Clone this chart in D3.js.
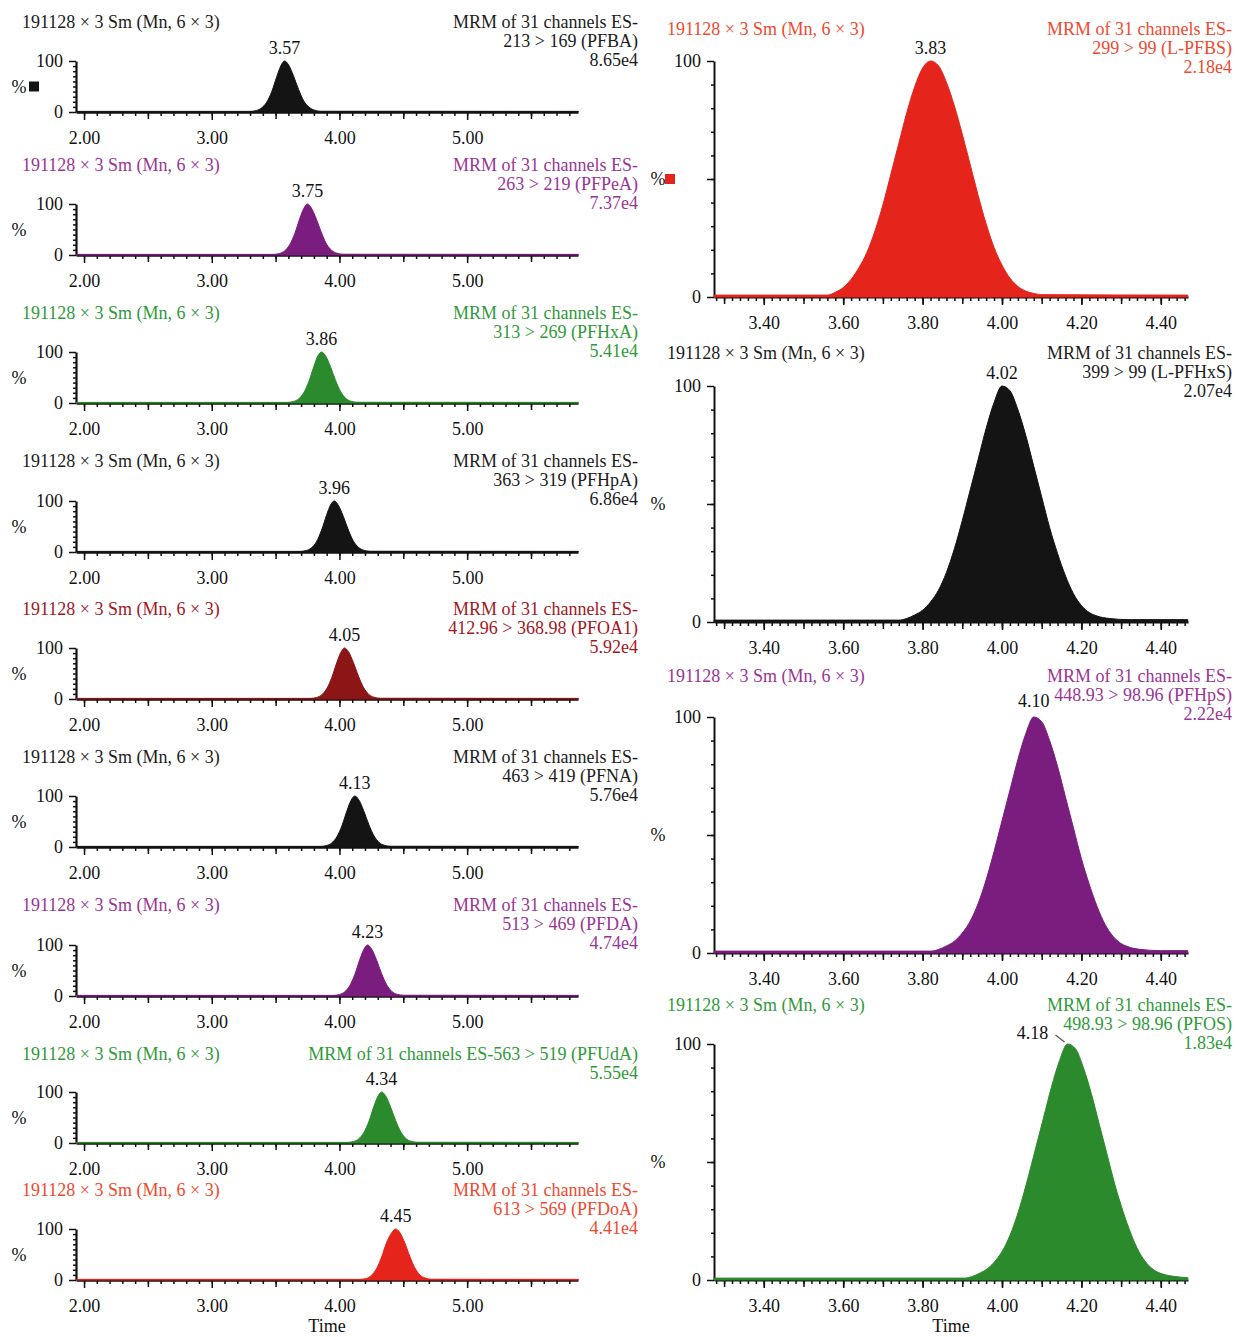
<!DOCTYPE html>
<html>
<head>
<meta charset="utf-8">
<script src="https://cdn.jsdelivr.net/npm/d3@7"></script>
<style>
  body { margin: 0; background: #fff; }
  svg text { font-family: "Liberation Serif", "DejaVu Serif", serif; font-size: 18px; }
</style>
</head>
<body>
<svg width="1236" height="1337"></svg>
<script>
// header texts
const sampleTitle = "191128 \u00d7 3 Sm (Mn, 6 \u00d7 3)";
const channelPrefix = "MRM of 31 channels ES-";

// left column: 9 compounds
const leftCompounds = ["213 > 169 (PFBA)", "263 > 219 (PFPeA)", "313 > 269 (PFHxA)", "363 > 319 (PFHpA)",
  "412.96 > 368.98 (PFOA1)", "463 > 419 (PFNA)", "513 > 469 (PFDA)", "563 > 519 (PFUdA)", "613 > 569 (PFDoA)"];
const leftIntensity = ["8.65e4", "7.37e4", "5.41e4", "6.86e4", "5.92e4", "5.76e4", "4.74e4", "5.55e4", "4.41e4"];
const leftApexLabels = ["3.57", "3.75", "3.86", "3.96", "4.05", "4.13", "4.23", "4.34", "4.45"];
const leftColorNames = ["black", "purple", "green", "black", "darkred", "black", "purple", "green", "red"];
const leftTicks = [2, 3, 4, 5];

// right column: 4 compounds
const rightCompounds = ["299 > 99 (L-PFBS)", "399 > 99 (L-PFHxS)", "448.93 > 98.96 (PFHpS)", "498.93 > 98.96 (PFOS)"];
const rightIntensity = ["2.18e4", "2.07e4", "2.22e4", "1.83e4"];
const rightApexLabels = ["3.83", "4.02", "4.10", "4.18"];
const rightColorNames = ["red", "black", "purple", "green"];
const rightTicks = [3.4, 3.6, 3.8, 4.0, 4.2, 4.4];

// chromatogram traces [time (min), % of max]
const pfba = [[1.94,1.2],[3.30,1.2],[3.35,3],[3.39,8],[3.43,19],[3.47,40],[3.51,70],[3.54,90],[3.57,100],[3.60,93],[3.64,71],[3.68,44],[3.72,22],[3.76,10],[3.80,4],[3.85,1.5],[5.87,1.2]];
const pfpea = [[1.94,1.2],[3.48,1.2],[3.53,3],[3.57,8],[3.61,20],[3.65,42],[3.69,72],[3.72,91],[3.75,100],[3.78,92],[3.82,70],[3.86,43],[3.90,21],[3.94,9],[3.98,3.5],[4.03,1.5],[5.87,1.2]];
const pfhxa = [[1.94,1.2],[3.59,1.2],[3.64,3],[3.68,8],[3.72,20],[3.76,42],[3.80,72],[3.83,92],[3.86,100],[3.89,93],[3.93,71],[3.97,44],[4.01,22],[4.05,9],[4.09,3.5],[4.14,1.5],[5.87,1.2]];
const pfhpa = [[1.94,1.2],[3.69,1.2],[3.74,3],[3.78,8],[3.82,20],[3.86,43],[3.90,73],[3.93,92],[3.96,100],[3.99,92],[4.03,70],[4.07,43],[4.11,21],[4.15,9],[4.19,3.5],[4.24,1.5],[5.87,1.2]];
const pfoa = [[1.94,1.2],[3.77,1.2],[3.82,3],[3.86,8],[3.90,20],[3.94,42],[3.98,72],[4.01,91],[4.04,100],[4.07,93],[4.11,71],[4.15,44],[4.19,22],[4.23,9],[4.27,3.5],[4.32,1.5],[5.87,1.2]];
const pfna = [[1.94,1.2],[3.85,1.2],[3.90,3],[3.94,8],[3.98,20],[4.02,42],[4.06,72],[4.09,91],[4.12,100],[4.15,93],[4.19,71],[4.23,44],[4.27,22],[4.31,9],[4.35,3.5],[4.40,1.5],[5.87,1.2]];
const pfda = [[1.94,1.2],[3.95,1.2],[4.00,3],[4.04,8],[4.08,20],[4.12,42],[4.16,72],[4.19,91],[4.22,100],[4.25,93],[4.29,71],[4.33,44],[4.37,22],[4.41,9],[4.45,3.5],[4.50,1.5],[5.87,1.2]];
const pfuda = [[1.94,1.2],[4.06,1.2],[4.11,3],[4.15,8],[4.19,20],[4.23,42],[4.27,72],[4.30,91],[4.33,100],[4.36,93],[4.40,71],[4.44,44],[4.48,22],[4.52,9],[4.56,3.5],[4.61,1.5],[5.87,1.2]];
const pfdoa = [[1.94,1.2],[4.16,1.2],[4.21,3],[4.25,9],[4.29,22],[4.33,45],[4.37,74],[4.41,93],[4.44,100],[4.47,94],[4.51,74],[4.55,47],[4.59,24],[4.63,10],[4.67,4],[4.72,1.5],[5.87,1.2]];

const lpfbs = [[3.275,0.8],[3.56,0.8],[3.58,2],[3.60,4],[3.62,7.5],[3.64,12.5],[3.66,19],[3.68,28],[3.70,39],[3.72,52],[3.74,65],[3.76,78],[3.78,89],[3.80,97],[3.82,100],[3.84,98],[3.86,91],[3.88,81],[3.90,69],[3.92,56],[3.94,43],[3.96,31],[3.98,21],[4.00,13.5],[4.02,8],[4.04,4.5],[4.06,2.5],[4.08,1.5],[4.10,1],[4.468,0.8]];
const lpfhxs = [[3.275,0.8],[3.74,0.8],[3.76,1.5],[3.78,3],[3.80,5],[3.82,8.5],[3.84,13.5],[3.86,21],[3.88,31],[3.90,43],[3.92,56],[3.94,69],[3.96,82],[3.98,93],[4.00,100],[4.02,98],[4.04,90],[4.06,79],[4.08,66],[4.10,53],[4.12,40],[4.14,29],[4.16,19.5],[4.18,12],[4.20,7],[4.22,4],[4.24,2.5],[4.27,1.5],[4.32,1],[4.468,1]];
const pfhps = [[3.275,0.8],[3.82,0.8],[3.84,1.5],[3.86,3],[3.88,5],[3.90,8.5],[3.92,13.5],[3.94,21],[3.96,31],[3.98,43],[4.00,56],[4.02,69],[4.04,82],[4.06,93],[4.08,100],[4.10,98],[4.12,90],[4.14,79],[4.16,66],[4.18,53],[4.20,40],[4.22,29],[4.24,19.5],[4.26,12],[4.28,7],[4.30,4],[4.32,2.5],[4.35,1.5],[4.40,1],[4.468,1]];
const pfos = [[3.275,0.8],[3.905,0.8],[3.925,1.5],[3.945,3],[3.965,5],[3.985,8.5],[4.005,13.5],[4.025,21],[4.045,31],[4.065,43],[4.085,56],[4.105,69],[4.125,82],[4.145,93],[4.165,100],[4.185,98],[4.205,90],[4.225,79],[4.245,66],[4.265,53],[4.285,40],[4.305,29],[4.325,19.5],[4.345,12],[4.365,7],[4.385,4],[4.405,2.5],[4.435,1.5],[4.468,1]];

const leftTraces = [pfba, pfpea, pfhxa, pfhpa, pfoa, pfna, pfda, pfuda, pfdoa];
const rightTraces = [lpfbs, lpfhxs, pfhps, pfos];

// colours: [text, fill]
const palette = {
  black: ["#1c1c1c", "#141414"],
  purple: ["#9a3596", "#7b1c7f"],
  green: ["#2f9a3a", "#2b8a2b"],
  darkred: ["#a3171d", "#8c1515"],
  red: ["#ef4a2f", "#e5241c"]
};

// layout
const leftY100 = [61, 204, 352, 501, 648, 796, 945, 1092, 1229];
const leftTitleY = [22, 165, 313, 461, 609, 757, 905, 1054, 1190];
const rightY100 = [61, 386, 717, 1044];
const rightTitleY = [29, 353, 676, 1005];

const svg = d3.select("svg");

const leftCol = {
  left: 76, right: 578, height: 51, domain: [1.937, 5.868], textRight: 638, pctX: 19, markerDx: 10,
  major: leftTicks, medium: [2.5, 3.5, 4.5, 5.5], minor: d3.range(20, 59).map(i => i / 10),
  yMinor: d3.range(10, 100, 10), yMid: [], axisW: 2.6, yAxisW: 2.2, timeX: 327
};
const rightCol = {
  left: 714, right: 1188, height: 236, domain: [3.2746, 4.4685], textRight: 1232, pctX: 658, markerDx: 7,
  major: rightTicks, medium: d3.range(33, 45).map(i => i / 10), minor: d3.range(164, 224).map(i => i / 50),
  yMinor: d3.range(10, 100, 10), yMid: [50], axisW: 2.2, yAxisW: 2, timeX: 951
};

function drawPanel(col, p) {
  let g = svg.append("g");
  let y0 = p.y100 + col.height;
  let x = d3.scaleLinear().domain(col.domain).range([col.left, col.right]);
  let y = d3.scaleLinear().domain([0, 100]).range([y0, p.y100]);
  let textColor = palette[p.color][0];
  let fillColor = palette[p.color][1];

  // minor x ticks
  g.append("g")
    .attr("class", "minor")
    .attr("transform", "translate(0," + y0 + ")")
    .call(d3.axisBottom(x).tickValues(col.minor).tickSize(4).tickFormat("").tickSizeOuter(0));
  g.append("g")
    .attr("class", "minor")
    .attr("transform", "translate(0," + y0 + ")")
    .call(d3.axisBottom(x).tickValues(col.medium).tickSize(7).tickFormat("").tickSizeOuter(0));
  g.selectAll(".minor .domain").remove();

  // labelled x ticks + axis line
  let xa = g.append("g")
    .attr("transform", "translate(0," + y0 + ")")
    .call(d3.axisBottom(x).tickValues(col.major).tickSize(8).tickPadding(11).tickSizeOuter(0)
      .tickFormat(d3.format(".2f")));
  xa.select(".domain").attr("stroke-width", col.axisW);

  // y axis
  g.append("g")
    .attr("class", "yminor")
    .attr("transform", "translate(" + col.left + ",0)")
    .call(d3.axisLeft(y).tickValues(col.yMinor).tickSize(3).tickFormat("").tickSizeOuter(0));
  g.append("g")
    .attr("class", "yminor")
    .attr("transform", "translate(" + col.left + ",0)")
    .call(d3.axisLeft(y).tickValues(col.yMid).tickSize(7).tickFormat("").tickSizeOuter(0));
  g.selectAll(".yminor .domain").remove();
  let ya = g.append("g")
    .attr("transform", "translate(" + col.left + ",0)")
    .call(d3.axisLeft(y).tickValues([0, 100]).tickSize(7).tickPadding(6).tickSizeOuter(0));
  ya.select(".domain").attr("stroke-width", col.yAxisW);

  g.selectAll(".tick line").attr("stroke", "#111").attr("stroke-width", 1.5);
  g.selectAll(".domain").attr("stroke", "#111");
  g.selectAll(".tick text").attr("fill", "#111").style("font-size", "18px")
    .style("font-family", '"Liberation Serif", "DejaVu Serif", serif');

  // chromatogram
  let area = d3.area()
    .curve(d3.curveMonotoneX)
    .x(d => x(d[0]))
    .y0(y(0))
    .y1(d => y(d[1]));
  g.append("path")
    .datum(p.trace)
    .attr("d", area)
    .attr("fill", fillColor)
    .attr("stroke", fillColor)
    .attr("stroke-width", 1);

  // headers
  g.append("text")
    .attr("x", col === leftCol ? 22 : 667)
    .attr("y", p.titleY + 6)
    .attr("fill", textColor)
    .text(sampleTitle);
  p.header.forEach(function(line, i) {
    g.append("text")
      .attr("x", col.textRight)
      .attr("y", p.titleY + 6 + i * 19)
      .attr("text-anchor", "end")
      .attr("fill", textColor)
      .text(line);
  });

  // apex label
  let apex = d3.greatest(p.trace, d => d[1]);
  let ax = x(apex[0]);
  g.append("text")
    .attr("x", ax + p.labelDx)
    .attr("y", p.y100 - 7 + p.labelDy)
    .attr("text-anchor", "middle")
    .attr("fill", "#111")
    .text(p.apexLabel);
  if (p.labelDx !== 0) {
    g.append("line")
      .attr("x1", ax + p.labelDx + 23).attr("y1", p.y100 - 9)
      .attr("x2", ax - 3).attr("y2", p.y100 - 2)
      .attr("stroke", "#555").attr("stroke-width", 1.2);
  }

  // % label
  let midY = (p.y100 + y0) / 2;
  g.append("text")
    .attr("x", col.pctX)
    .attr("y", midY + 6)
    .attr("text-anchor", "middle")
    .attr("fill", "#111")
    .text("%");
  if (p.marker) {
    g.append("rect")
      .attr("x", col.pctX + col.markerDx).attr("y", midY - 5)
      .attr("width", 10).attr("height", 10)
      .attr("fill", fillColor);
  }
  return y0;
}

// left column
leftTraces.forEach(function(trace, i) {
  let header = i === 7
    ? [channelPrefix + leftCompounds[i], leftIntensity[i]]
    : [channelPrefix, leftCompounds[i], leftIntensity[i]];
  drawPanel(leftCol, {
    y100: leftY100[i], titleY: leftTitleY[i], trace: trace, color: leftColorNames[i],
    header: header, apexLabel: leftApexLabels[i], labelDx: 0, labelDy: 0, marker: i === 0
  });
});

// right column
rightTraces.forEach(function(trace, i) {
  drawPanel(rightCol, {
    y100: rightY100[i], titleY: rightTitleY[i], trace: trace, color: rightColorNames[i],
    header: [channelPrefix, rightCompounds[i], rightIntensity[i]],
    apexLabel: rightApexLabels[i], labelDx: i === 3 ? -35 : 0, labelDy: i === 3 ? 2 : (i === 2 ? -3 : 0),
    marker: i === 0
  });
});

// time axis titles
svg.append("text").attr("x", leftCol.timeX).attr("y", 1332).attr("text-anchor", "middle").attr("fill", "#111").text("Time");
svg.append("text").attr("x", rightCol.timeX).attr("y", 1332).attr("text-anchor", "middle").attr("fill", "#111").text("Time");
</script>
</body>
</html>
